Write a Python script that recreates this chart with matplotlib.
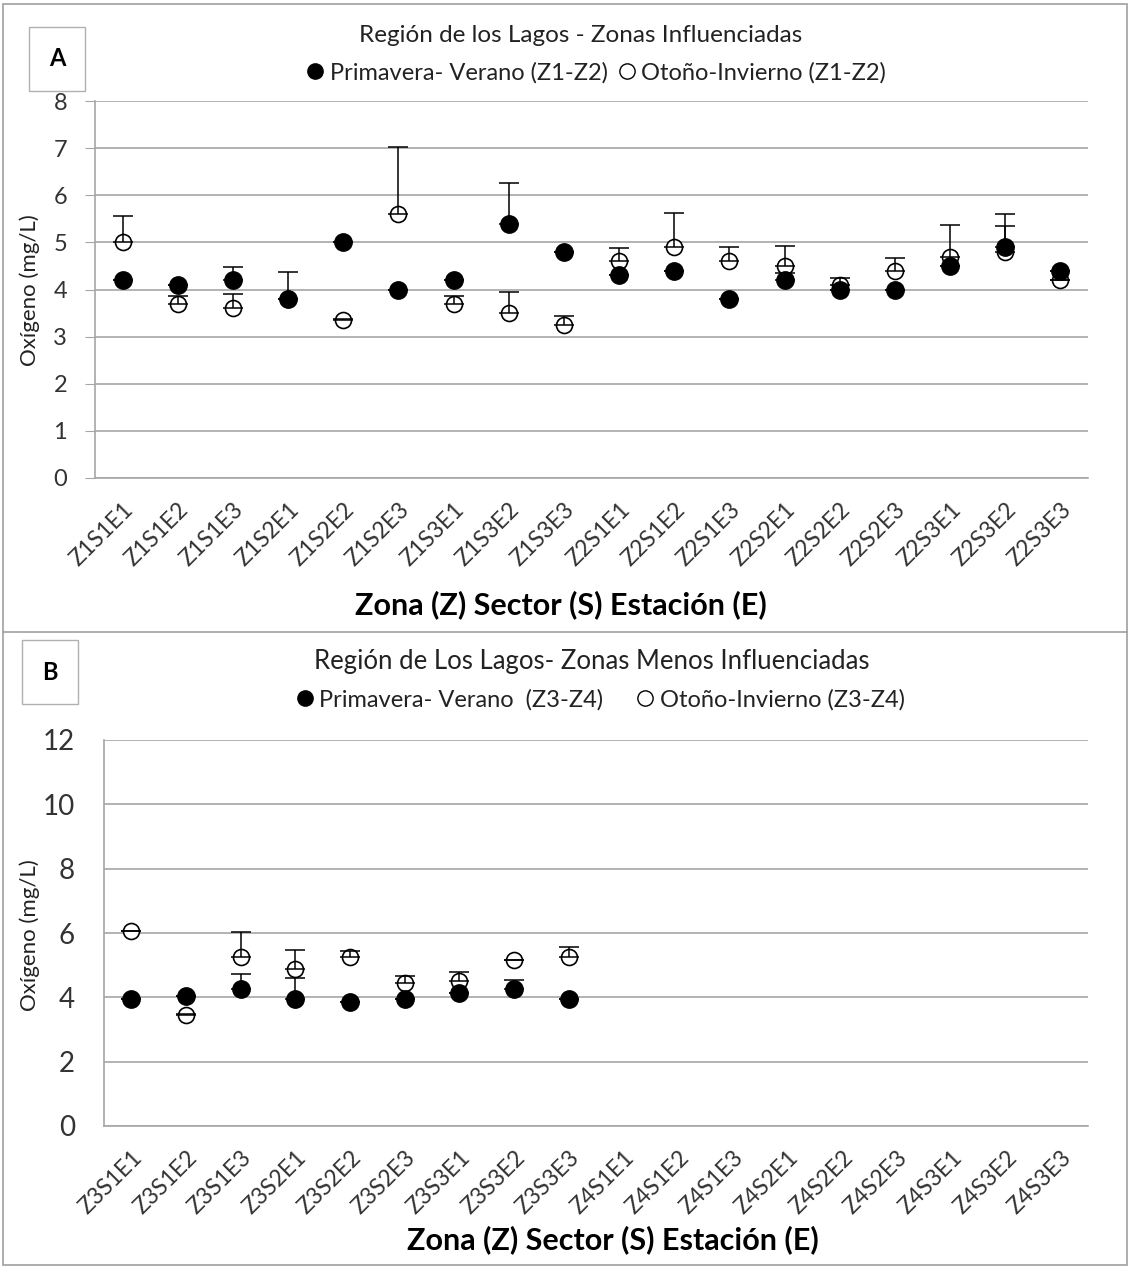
import numpy as np
import matplotlib
matplotlib.use("Agg")
from matplotlib import pyplot as plt
from matplotlib.lines import Line2D
from matplotlib.patches import Rectangle

plt.rcParams["font.family"] = ["Lato", "DejaVu Sans"]

# Panel A: zonas influenciadas (Z1-Z2)
labels_a = [
    "Z1S1E1", "Z1S1E2", "Z1S1E3", "Z1S2E1", "Z1S2E2", "Z1S2E3",
    "Z1S3E1", "Z1S3E2", "Z1S3E3", "Z2S1E1", "Z2S1E2", "Z2S1E3",
    "Z2S2E1", "Z2S2E2", "Z2S2E3", "Z2S3E1", "Z2S3E2", "Z2S3E3",
]
pv_a = [4.2, 4.1, 4.2, 3.8, 5.0, 4.0, 4.2, 5.4, 4.8,
        4.3, 4.4, 3.8, 4.2, 4.0, 4.0, 4.5, 4.9, 4.4]
pv_a_err = [0.0, 0.0, 0.27, 0.0, 0.0, 0.0, 0.0, 0.85, 0.0,
            0.0, 0.0, 0.0, 0.15, 0.0, 0.0, 0.0, 0.45, 0.0]
oi_a = [5.0, 3.7, 3.6, 3.8, 3.35, 5.6, 3.7, 3.5, 3.25,
        4.6, 4.9, 4.6, 4.5, 4.1, 4.4, 4.7, 4.8, 4.2]
oi_a_err = [0.56, 0.17, 0.3, 0.57, 0.02, 1.43, 0.16, 0.44, 0.18,
            0.29, 0.72, 0.3, 0.42, 0.15, 0.27, 0.67, 0.8, 0.0]

# Panel B: zonas menos influenciadas (Z3-Z4), solo Z3 tiene datos
labels_b = [
    "Z3S1E1", "Z3S1E2", "Z3S1E3", "Z3S2E1", "Z3S2E2", "Z3S2E3",
    "Z3S3E1", "Z3S3E2", "Z3S3E3", "Z4S1E1", "Z4S1E2", "Z4S1E3",
    "Z4S2E1", "Z4S2E2", "Z4S2E3", "Z4S3E1", "Z4S3E2", "Z4S3E3",
]
pv_b = [3.95, 4.05, 4.25, 3.95, 3.85, 3.95, 4.15, 4.25, 3.95]
pv_b_err = [0.0, 0.0, 0.47, 0.65, 0.0, 0.0, 0.0, 0.3, 0.0]
oi_b = [6.05, 3.45, 5.25, 4.87, 5.25, 4.45, 4.5, 5.15, 5.25]
oi_b_err = [0.02, 0.02, 0.78, 0.6, 0.2, 0.2, 0.28, 0.02, 0.3]

GRID = "#a6a6a6"
W, H = 1130, 1268


def fx(px):
    return px / W


def fy(py):
    return 1 - py / H


def draw_panel(ax, labels, pv, pv_err, oi, oi_err, ymax, ystep, tick_fs,
               tick_len, tick_pad):
    """Scatter with upper error bars in the Excel style of the source."""
    x = np.arange(len(labels))
    n_pv = len(pv)
    n_oi = len(oi)
    ax.errorbar(x[:n_oi], oi, yerr=[np.zeros(n_oi), oi_err], fmt="none",
                ecolor="black", elinewidth=1.1, capsize=7, capthick=1.1,
                zorder=4)
    ax.plot(x[:n_oi], oi, "o", ms=11.5, mfc="white", mec="black",
            mew=1.2, zorder=3)
    ax.errorbar(x[:n_pv], pv, yerr=[np.zeros(n_pv), pv_err], fmt="none",
                ecolor="black", elinewidth=1.1, capsize=7, capthick=1.1,
                zorder=6)
    ax.plot(x[:n_pv], pv, "o", ms=12.5, mfc="black", mec="black",
            zorder=5)

    ax.set_xlim(-0.5, len(labels) - 0.5)
    ax.set_ylim(0, ymax)
    ax.set_yticks(np.arange(0, ymax + 0.1, ystep))
    ax.set_xticks(x)
    ax.set_xticklabels(labels, rotation=45, ha="right",
                       rotation_mode="anchor", fontsize=16.5,
                       color="#333333")
    ax.tick_params(axis="y", labelsize=tick_fs, length=tick_len, color=GRID,
                   pad=tick_pad, labelcolor="#333333")
    ax.tick_params(axis="x", length=0, pad=15)
    ax.grid(axis="y", color=GRID, linewidth=1.2)
    ax.set_axisbelow(True)
    for side in ["top", "right"]:
        ax.spines[side].set_visible(False)
    for side in ["left", "bottom"]:
        ax.spines[side].set_color(GRID)
        ax.spines[side].set_linewidth(1.2)


fig = plt.figure(figsize=(W / 100, H / 100), dpi=100)

ax_a = fig.add_axes([fx(95), fy(478), fx(1088) - fx(95), fy(101) - fy(478)])
draw_panel(ax_a, labels_a, pv_a, pv_a_err, oi_a, oi_a_err, 8, 1, 17, 7, 13)

ax_b = fig.add_axes([fx(104), fy(1126), fx(1088) - fx(104),
                     fy(740) - fy(1126)])
draw_panel(ax_b, labels_b, pv_b, pv_b_err, oi_b, oi_b_err, 12, 2, 20, 0, 21)

# axis titles
for py in [290, 935]:
    fig.text(fx(30), fy(py), "Oxígeno (mg/L)", rotation=90, ha="center",
             va="center", fontsize=16, color="#222222")
for px, py in [(561, 605), (613, 1240)]:
    fig.text(fx(px), fy(py), "Zona (Z) Sector (S) Estación (E)",
             ha="center", va="center", fontsize=22, fontweight="bold")

# titles and legends
fig.text(fx(581), fy(35), "Región de los Lagos - Zonas Influenciadas",
         ha="center", va="center", fontsize=17.5, color="#222222")
fig.text(fx(592), fy(662), "Región de Los Lagos- Zonas Menos Influenciadas",
         ha="center", va="center", fontsize=18.5, color="#222222")

handles = [
    Line2D([], [], ls="none", marker="o", ms=11, mfc="black", mec="black"),
    Line2D([], [], ls="none", marker="o", ms=11, mfc="white", mec="black"),
]
fig.legend(handles,
           ["Primavera- Verano (Z1-Z2)", "Otoño-Invierno (Z1-Z2)"],
           loc="center", bbox_to_anchor=(fx(597), fy(73)), ncol=2,
           frameon=False, fontsize=17, handlelength=0.6,
           handletextpad=0.3, columnspacing=0.5, labelcolor="#222222")
fig.legend(handles,
           ["Primavera- Verano  (Z3-Z4)", "Otoño-Invierno (Z3-Z4)"],
           loc="center", bbox_to_anchor=(fx(601), fy(700)), ncol=2,
           frameon=False, fontsize=17, handlelength=0.6,
           handletextpad=0.3, columnspacing=1.5, labelcolor="#222222")

# panel letters in small boxes
for letter, px, py in [("A", 57, 59), ("B", 50, 672)]:
    fig.text(fx(px), fy(py), letter, ha="center", va="center",
             fontsize=17, fontweight="bold",
             bbox=dict(boxstyle="square,pad=0.85", fc="white", ec="#b0b0b0",
                       lw=1.0))

# outer frame and divider between panels
fig.add_artist(Rectangle((0.003, 0.002), 0.994, 0.995,
                         transform=fig.transFigure, fill=False,
                         ec="#a0a0a0", lw=1.2))
fig.add_artist(Line2D([0.003, 0.997], [fy(632), fy(632)],
                      transform=fig.transFigure, color="#a0a0a0", lw=1.2))

fig.savefig("out.png", dpi=100)
